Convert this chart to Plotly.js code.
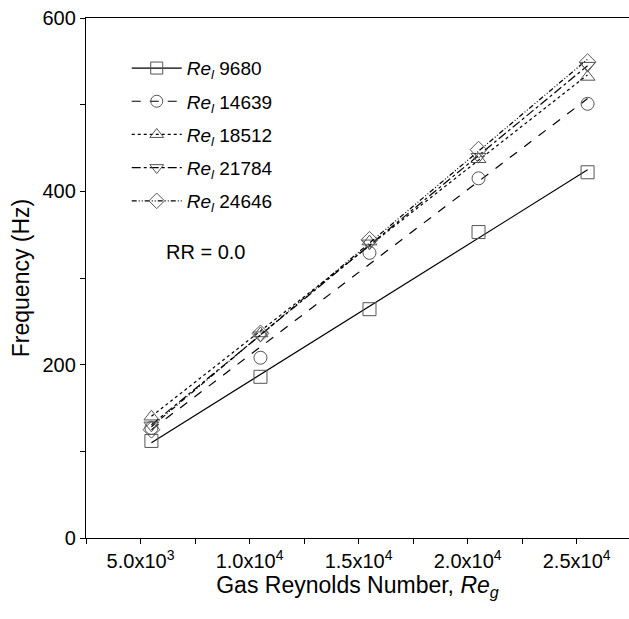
<!DOCTYPE html>
<html>
<head>
<meta charset="utf-8">
<script src="https://cdn.plot.ly/plotly-3.0.1.min.js"></script>
<style>html,body{margin:0;padding:0;background:#fff;}#chart{width:629px;height:619px;}</style>
</head>
<body>
<div id="chart"></div>
<script>
// Gas Reynolds number (x) values
var reGas = [5500, 10500, 15500, 20500, 25500];
// Frequency (Hz) for each liquid Reynolds number
var seriesNames = ["9680", "14639", "18512", "21784", "24646"];
var freq9680  = [112, 186, 264, 353, 422];
var freq14639 = [127, 208, 329, 415, 501];
var freq18512 = [140, 236, 342, 437, 532];
var freq21784 = [130, 234, 340, 440, 545];
var freq24646 = [125, 236, 344, 448, 549];
var xTickVals = [2500, 5000, 7500, 10000, 12500, 15000, 17500, 20000, 22500, 25000];
var xTickText = ["", "5.0x10<sup>3</sup>", "", "1.0x10<sup>4</sup>", "", "1.5x10<sup>4</sup>", "", "2.0x10<sup>4</sup>", "", "2.5x10<sup>4</sup>"];
var yTickVals = [0, 100, 200, 300, 400, 500, 600];
var yTickText = ["0", "", "200", "", "400", "", "600"];

var allY = [freq9680, freq14639, freq18512, freq21784, freq24646];
var symbols = ["square-open", "circle-open", "triangle-up-open", "triangle-down-open", "diamond-open"];
var dashes = ["solid", "dash", "dot", "dashdot", "5px,2px,1px,2px,1px,2px"];
var markerColor = "#555";

function fit(xs, ys) {
  var n = xs.length, sx = 0, sy = 0, sxx = 0, sxy = 0;
  for (var i = 0; i < n; i++) { sx += xs[i]; sy += ys[i]; sxx += xs[i]*xs[i]; sxy += xs[i]*ys[i]; }
  var b = (n*sxy - sx*sy) / (n*sxx - sx*sx);
  var a = (sy - b*sx) / n;
  return [a + b*xs[0], a + b*xs[n-1]];
}

var traces = [];
for (var k = 0; k < allY.length; k++) {
  var f = fit(reGas, allY[k]);
  traces.push({
    x: [reGas[0], reGas[reGas.length-1]], y: f, mode: "lines",
    line: {color: "#000", width: 1.2, dash: dashes[k]},
    showlegend: false, hoverinfo: "skip", legendgroup: "g" + k
  });
  traces.push({
    x: reGas, y: allY[k], mode: "markers",
    marker: {symbol: symbols[k], size: 13, color: markerColor, line: {color: markerColor, width: 1}},
    showlegend: false, legendgroup: "g" + k
  });
  traces.push({
    x: [null], y: [null], mode: "lines+markers",
    name: "<i>Re</i><sub><i>l</i></sub> " + seriesNames[k],
    line: {color: "#000", width: 1.2, dash: dashes[k]},
    marker: {symbol: symbols[k], size: 12, color: markerColor, line: {color: markerColor, width: 1}},
    legendgroup: "g" + k, showlegend: true
  });
}

var layout = {
  width: 629, height: 619,
  margin: {l: 86, r: 0, t: 18, b: 81},
  paper_bgcolor: "#fff", plot_bgcolor: "#fff",
  font: {family: "Liberation Sans, Arial, sans-serif", size: 20, color: "#000"},
  showlegend: true,
  legend: {
    x: 0.075, y: 0.94, xanchor: "left", yanchor: "top",
    bgcolor: "rgba(0,0,0,0)", borderwidth: 0, itemwidth: 50,
    font: {size: 19}, traceorder: "grouped", tracegroupgap: 5.5
  },
  xaxis: {
    range: [2500, 27400], showgrid: false, zeroline: false,
    showline: true, linecolor: "#000", linewidth: 1.2, mirror: true,
    ticks: "outside", ticklen: 5, tickwidth: 1, tickcolor: "#000",
    tickmode: "array", tickvals: xTickVals, ticktext: xTickText,
    tickfont: {size: 20},
    title: {text: "Gas Reynolds Number, <i>Re</i><sub><i>g</i></sub>", font: {size: 23}, standoff: 4}
  },
  yaxis: {
    range: [0, 600], showgrid: false, zeroline: false,
    showline: true, linecolor: "#000", linewidth: 1.2, mirror: false,
    ticks: "outside", ticklen: 5, tickwidth: 1, tickcolor: "#000",
    tickmode: "array", tickvals: yTickVals, ticktext: yTickText,
    tickfont: {size: 20},
    title: {text: "Frequency (Hz)", font: {size: 23}, standoff: 6}
  },
  annotations: [{
    xref: "paper", yref: "paper", x: (164-86)/543, y: (538-252)/520,
    xanchor: "left", yanchor: "middle", showarrow: false,
    text: "RR = 0.0", font: {size: 20}
  }]
};

Plotly.newPlot("chart", traces, layout, {displayModeBar: false, staticPlot: true});
</script>
</body>
</html>
